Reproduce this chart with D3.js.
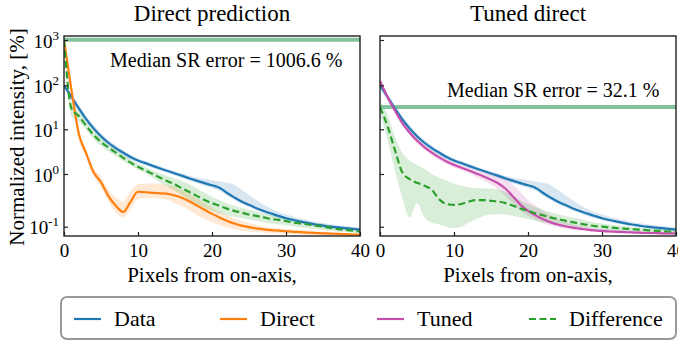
<!DOCTYPE html>
<html><head><meta charset="utf-8">
<script src="https://cdn.jsdelivr.net/npm/d3@7/dist/d3.min.js"></script>
<style>body{margin:0;background:#fff}svg{display:block}text{font-family:"Liberation Serif","Times New Roman","DejaVu Serif",serif;fill:#000}</style>
</head><body><svg id="c" width="678" height="342"></svg>
<script>
const pixels = d3.range(0, 41);
const yTicks = [0.1, 1, 10, 100, 1000];
const xTicks = [0, 10, 20, 30, 40];
const seriesNames = ["Data", "Direct", "Tuned", "Difference"];
const panelTitles = ["Direct prediction", "Tuned direct"];
const medianSR = [1006.6, 32.1];

const dataVals = [100,55,30,17,10.5,7,5,3.8,3.0,2.4,2.0,1.75,1.52,1.33,1.17,1.03,0.92,0.82,0.74,0.67,0.61,0.55,0.44,0.36,0.3,0.26,0.225,0.198,0.178,0.16,0.145,0.134,0.125,0.117,0.11,0.105,0.1,0.097,0.094,0.091,0.088];
const dataLo = [85,46,25,14.5,9,6,4.3,3.3,2.6,2.1,1.78,1.56,1.36,1.2,1.05,0.93,0.83,0.74,0.66,0.6,0.54,0.48,0.39,0.32,0.27,0.235,0.205,0.18,0.16,0.145,0.132,0.123,0.115,0.108,0.102,0.097,0.093,0.09,0.087,0.085,0.083];
const dataHi = [120,65,36,20,12.5,8.2,5.8,4.4,3.4,2.7,2.25,1.95,1.7,1.5,1.3,1.15,1.02,0.92,0.85,0.8,0.76,0.72,0.68,0.62,0.5,0.4,0.32,0.26,0.22,0.19,0.17,0.155,0.143,0.133,0.124,0.117,0.111,0.107,0.103,0.1,0.097];

const directVals = [1000,80,8,2.9,1.1,0.7,0.38,0.25,0.19,0.3,0.46,0.45,0.44,0.43,0.42,0.39,0.35,0.3,0.25,0.21,0.175,0.15,0.13,0.115,0.105,0.098,0.093,0.089,0.086,0.084,0.082,0.08,0.079,0.077,0.076,0.075,0.074,0.073,0.072,0.071,0.07];
const directLo = [850,60,6,2.3,0.9,0.55,0.3,0.19,0.15,0.22,0.33,0.35,0.35,0.34,0.32,0.28,0.24,0.2,0.165,0.14,0.12,0.108,0.098,0.09,0.085,0.082,0.079,0.077,0.075,0.074,0.073,0.072,0.071,0.07,0.069,0.069,0.068,0.067,0.067,0.066,0.066];
const directHi = [1150,105,10.5,3.5,1.35,0.9,0.5,0.36,0.3,0.48,0.64,0.66,0.66,0.65,0.62,0.56,0.49,0.41,0.34,0.28,0.23,0.195,0.165,0.145,0.13,0.118,0.108,0.101,0.096,0.093,0.09,0.088,0.086,0.084,0.082,0.08,0.079,0.078,0.076,0.075,0.074];

const tunedVals = [125,55,27,14,8.5,5.6,4.0,3.0,2.35,1.9,1.6,1.38,1.2,1.03,0.9,0.78,0.66,0.52,0.37,0.26,0.2,0.165,0.14,0.122,0.11,0.102,0.096,0.092,0.088,0.085,0.083,0.081,0.08,0.079,0.078,0.077,0.076,0.076,0.075,0.075,0.074];
const tunedLo = [105,47,23,12,7.4,4.9,3.5,2.6,2.05,1.65,1.4,1.2,1.04,0.88,0.75,0.63,0.5,0.38,0.27,0.2,0.16,0.135,0.118,0.105,0.097,0.092,0.088,0.085,0.082,0.08,0.078,0.077,0.076,0.075,0.074,0.073,0.072,0.071,0.071,0.07,0.07];
const tunedHi = [140,62,31,16,9.6,6.3,4.5,3.4,2.65,2.15,1.8,1.57,1.38,1.22,1.1,1.0,0.9,0.78,0.62,0.45,0.32,0.25,0.2,0.165,0.14,0.125,0.112,0.104,0.098,0.094,0.091,0.089,0.087,0.085,0.084,0.083,0.082,0.081,0.081,0.08,0.08];

const diffLeftVals = [1000,30,20,12,7.5,5.2,3.9,3.0,2.3,1.8,1.45,1.2,1.0,0.85,0.73,0.63,0.53,0.45,0.38,0.32,0.28,0.25,0.22,0.2,0.185,0.17,0.16,0.15,0.14,0.135,0.128,0.12,0.115,0.11,0.105,0.1,0.095,0.09,0.087,0.084,0.081];
const diffLeftLo = [850,20,15,9.5,6,4.2,3.2,2.5,1.95,1.55,1.25,1.03,0.85,0.7,0.58,0.48,0.39,0.32,0.27,0.23,0.2,0.18,0.165,0.155,0.145,0.135,0.128,0.12,0.115,0.11,0.106,0.102,0.098,0.094,0.09,0.087,0.084,0.081,0.079,0.077,0.075];
const diffLeftHi = [1100,42,26,15,9.5,6.5,4.8,3.6,2.75,2.15,1.7,1.42,1.2,1.04,0.92,0.82,0.73,0.63,0.53,0.44,0.37,0.32,0.28,0.25,0.23,0.21,0.195,0.18,0.165,0.155,0.148,0.14,0.132,0.125,0.118,0.112,0.106,0.1,0.096,0.092,0.088];

const diffRightVals = [32,12,3.5,1.1,0.8,0.68,0.6,0.5,0.33,0.27,0.26,0.27,0.3,0.32,0.32,0.31,0.3,0.28,0.25,0.22,0.2,0.18,0.165,0.15,0.14,0.13,0.122,0.115,0.108,0.103,0.1,0.097,0.094,0.092,0.09,0.088,0.086,0.084,0.083,0.081,0.08];
const diffRightLo = [22,6,1.2,0.35,0.15,0.28,0.15,0.12,0.11,0.1,0.094,0.1,0.12,0.14,0.16,0.17,0.175,0.17,0.16,0.15,0.14,0.13,0.12,0.115,0.11,0.105,0.1,0.097,0.094,0.091,0.088,0.086,0.084,0.082,0.08,0.079,0.078,0.077,0.076,0.075,0.075];
const diffRightHi = [45,22,7,3.0,2.0,1.6,1.3,1.0,0.85,0.75,0.65,0.6,0.56,0.54,0.53,0.53,0.5,0.45,0.38,0.31,0.27,0.24,0.21,0.19,0.175,0.16,0.15,0.14,0.13,0.12,0.115,0.11,0.106,0.102,0.099,0.096,0.093,0.091,0.089,0.087,0.085];

const colors = {Data:"#1f77b4", Direct:"#ff7f0e", Tuned:"#c64fae", Difference:"#2ca02c", median:"#82c39d"};

const panels = [
  {x0:64, x1:360, title:panelTitles[0], median:medianSR[0], labels:true,
   series:[
     {name:"Data", v:dataVals, lo:dataLo, hi:dataHi},
     {name:"Direct", v:directVals, lo:directLo, hi:directHi},
     {name:"Difference", v:diffLeftVals, lo:diffLeftLo, hi:diffLeftHi}],
   textX:110, textY:67},
  {x0:380, x1:676, title:panelTitles[1], median:medianSR[1], labels:false,
   series:[
     {name:"Data", v:dataVals, lo:dataLo, hi:dataHi},
     {name:"Tuned", v:tunedVals, lo:tunedLo, hi:tunedHi},
     {name:"Difference", v:diffRightVals, lo:diffRightLo, hi:diffRightHi}],
   textX:447, textY:97}
];

const svg = d3.select("#c");
const FONT = "Liberation Serif";
const yTop = 36, yBot = 236;
const y = d3.scaleLog().domain(yTicks).range([226.7, 174, 129.3, 85.3, 40]);

panels.forEach((p, i) => {
  const x = d3.scaleLinear().domain([0, 40]).range([p.x0, p.x1]);
  const g = svg.append("g");
  const cid = "clip" + i;
  svg.append("clipPath").attr("id", cid).append("rect")
    .attr("x", p.x0).attr("y", yTop).attr("width", p.x1 - p.x0).attr("height", yBot - yTop);
  const plot = g.append("g").attr("clip-path", `url(#${cid})`);

  p.series.forEach(s => {
    const area = d3.area().x((d, j) => x(pixels[j])).y0((d, j) => y(s.lo[j])).y1((d, j) => y(s.hi[j])).curve(d3.curveMonotoneX);
    plot.append("path").attr("d", area(s.v)).attr("fill", colors[s.name]).attr("fill-opacity", 0.18);
  });
  plot.append("line").attr("x1", p.x0).attr("x2", p.x1).attr("y1", y(p.median)).attr("y2", y(p.median))
    .attr("stroke", colors.median).attr("stroke-width", 4);
  p.series.forEach(s => {
    const line = d3.line().x((d, j) => x(pixels[j])).y(d => y(d)).curve(d3.curveMonotoneX);
    plot.append("path").attr("d", line(s.v)).attr("fill", "none").attr("stroke", colors[s.name])
      .attr("stroke-width", 2.2).attr("stroke-dasharray", s.name === "Difference" ? "7,3.5" : null);
  });

  g.append("rect").attr("x", p.x0).attr("y", yTop).attr("width", p.x1 - p.x0).attr("height", yBot - yTop)
    .attr("fill", "none").attr("stroke", "#222").attr("stroke-width", 1.4);

  const xa = d3.axisBottom(x).tickValues(xTicks).tickSizeInner(-4).tickSizeOuter(0).tickPadding(0);
  const xg = g.append("g").attr("transform", `translate(0,${yBot})`).call(xa);
  xg.attr("font-family", FONT);
  xg.select(".domain").remove();
  xg.selectAll(".tick line").attr("stroke", "#222").attr("stroke-width", 1.2);
  xg.selectAll("text").attr("font-size", 19).attr("fill", "#000").attr("y", 21).attr("dy", null);

  const ya = d3.axisLeft(y).tickValues(yTicks).tickSizeInner(-4).tickSizeOuter(0).tickFormat("");
  const yg = g.append("g").attr("transform", `translate(${p.x0},0)`).call(ya);
  yg.attr("font-family", FONT);
  yg.select(".domain").remove();
  yg.selectAll(".tick line").attr("stroke", "#222").attr("stroke-width", 1.2);
  if (p.labels) {
    yg.selectAll(".tick").each(function(d) {
      const t = d3.select(this).append("text").attr("x", -5).attr("y", 7)
        .attr("text-anchor", "end").attr("font-size", 19);
      t.append("tspan").text("10");
      t.append("tspan").text(String(Math.round(Math.log10(d)))).attr("font-size", 13).attr("dy", -8);
    });
  }

  g.append("text").attr("x", (p.x0 + p.x1) / 2).attr("y", 21).attr("text-anchor", "middle")
    .attr("font-size", 23).text(p.title);
  g.append("text").attr("x", (p.x0 + p.x1) / 2).attr("y", 282).attr("text-anchor", "middle")
    .attr("font-size", 21).text("Pixels from on-axis,");
  g.append("text").attr("x", p.textX).attr("y", p.textY).attr("font-size", 20)
    .text(`Median SR error = ${p.median} %`);
});

svg.append("text").attr("transform", "translate(24,137) rotate(-90)").attr("text-anchor", "middle")
  .attr("font-size", 21).text("Normalized intensity, [%]");

const lg = svg.append("g");
lg.append("rect").attr("x", 61).attr("y", 297).attr("width", 615).attr("height", 42).attr("rx", 6)
  .attr("fill", "#fff").attr("stroke", "#999").attr("stroke-width", 2);
const legX = [74, 220, 377, 529];
seriesNames.forEach((n, i) => {
  lg.append("line").attr("x1", legX[i]).attr("x2", legX[i] + 27).attr("y1", 319).attr("y2", 319)
    .attr("stroke", colors[n]).attr("stroke-width", 2.2).attr("stroke-dasharray", n === "Difference" ? "7,3.5" : null);
  lg.append("text").attr("x", legX[i] + 40).attr("y", 326).attr("font-size", 22).text(n);
});
</script></body></html>
